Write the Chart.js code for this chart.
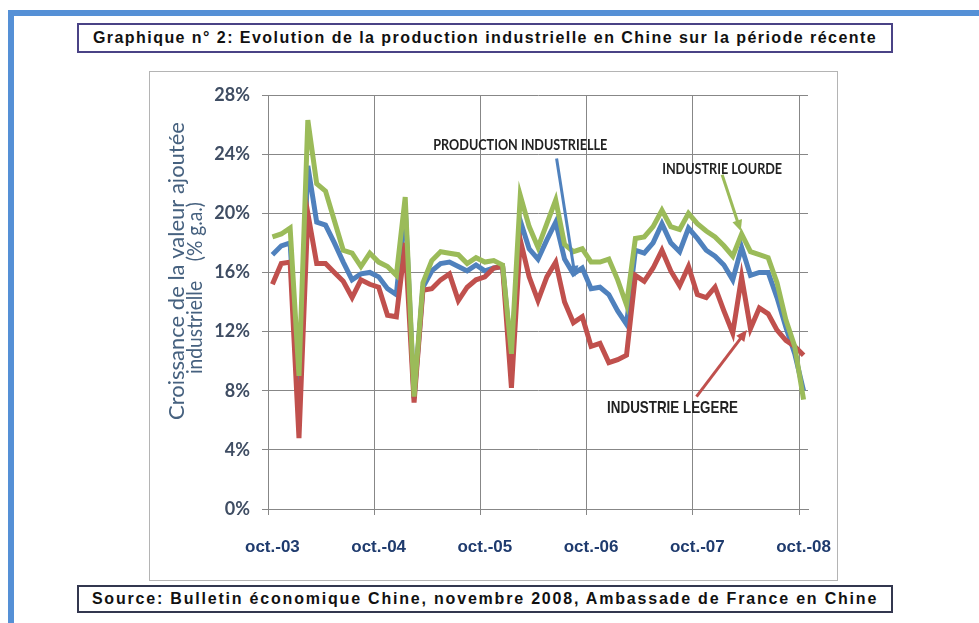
<!DOCTYPE html>
<html lang="fr">
<head>
<meta charset="utf-8">
<title>Production industrielle en Chine</title>
<script src="https://cdn.jsdelivr.net/npm/chart.js@4.4.1/dist/chart.umd.min.js"></script>
<style>
  html, body { margin: 0; padding: 0; background: #fff; }
  body { width: 979px; height: 623px; position: relative; overflow: hidden; }
  .bord-haut { position: absolute; left: 8px; top: 10px; width: 971px; height: 6px; background: #5590d6; }
  .bord-gauche { position: absolute; left: 8px; top: 10px; width: 6px; height: 613px; background: #5590d6; }
  .cadre {
    position: absolute; left: 77px; width: 816px; box-sizing: border-box;
    border: 2px solid #4a4386; color: #111; text-align: center; white-space: nowrap;
    font: bold 16px "Liberation Sans", Arial, sans-serif;
  }
  #titre { top: 23px; height: 30px; line-height: 26px; letter-spacing: 1.45px; }
  #source { top: 585px; height: 28px; line-height: 24px; letter-spacing: 1.8px; border-color: #33374f; }
  .boite { position: absolute; left: 149px; top: 71px; width: 689px; height: 510px; box-sizing: border-box; border: 1px solid #b4b4b4; }
  .boite canvas { display: block; }
</style>
</head>
<body>
<div class="bord-haut"></div>
<div class="bord-gauche"></div>
<div class="cadre" id="titre">Graphique n° 2: Evolution de la production industrielle en Chine sur la période récente</div>
<div class="boite"><canvas id="graphique"></canvas></div>
<div class="cadre" id="source">Source: Bulletin économique Chine, novembre 2008, Ambassade de France en Chine</div>

<script>
// Mois d'oct. 2003 à oct. 2008
const mois = [
  'oct.-03', 'nov.-03', 'déc.-03',
  'janv.-04', 'févr.-04', 'mars-04', 'avr.-04', 'mai-04', 'juin-04', 'juil.-04', 'août-04', 'sept.-04', 'oct.-04', 'nov.-04', 'déc.-04',
  'janv.-05', 'févr.-05', 'mars-05', 'avr.-05', 'mai-05', 'juin-05', 'juil.-05', 'août-05', 'sept.-05', 'oct.-05', 'nov.-05', 'déc.-05',
  'janv.-06', 'févr.-06', 'mars-06', 'avr.-06', 'mai-06', 'juin-06', 'juil.-06', 'août-06', 'sept.-06', 'oct.-06', 'nov.-06', 'déc.-06',
  'janv.-07', 'févr.-07', 'mars-07', 'avr.-07', 'mai-07', 'juin-07', 'juil.-07', 'août-07', 'sept.-07', 'oct.-07', 'nov.-07', 'déc.-07',
  'janv.-08', 'févr.-08', 'mars-08', 'avr.-08', 'mai-08', 'juin-08', 'juil.-08', 'août-08', 'sept.-08', 'oct.-08'
];

// Croissance de la valeur ajoutée industrielle, % g.a.
const productionIndustrielle = [
  17.2, 17.8, 18.0,
  8.0, 23.2, 19.4, 19.2, 18.0, 16.7, 15.5, 15.9, 16.0, 15.7, 14.9, 14.5,
  20.5, 7.5, 15.0, 16.1, 16.6, 16.7, 16.4, 16.1, 16.5, 16.1, 16.3, 16.4,
  10.2, 19.5, 17.6, 16.9, 18.2, 19.4, 16.9, 15.9, 16.3, 14.9, 15.0, 14.5,
  13.4, 12.5, 17.5, 17.3, 18.0, 19.3, 18.0, 17.4, 19.0, 18.3, 17.5, 17.1,
  16.5, 15.5, 17.7, 15.8, 16.0, 16.0, 14.3, 12.3, 10.5, 8.0
];
const industrieLourde = [
  18.4, 18.6, 19.0,
  9.0, 26.3, 22.0, 21.5, 19.5, 17.5, 17.3, 16.4, 17.3, 16.7, 16.4, 15.8,
  21.1, 7.6, 15.3, 16.8, 17.4, 17.3, 17.2, 16.6, 17.0, 16.7, 16.8, 16.5,
  10.5, 21.2, 19.1, 17.7, 19.3, 20.9, 17.9, 17.4, 17.6, 16.7, 16.7, 16.9,
  15.5, 13.8, 18.3, 18.4, 19.1, 20.2, 19.1, 18.9, 20.0, 19.3, 18.8, 18.4,
  17.8, 17.1, 18.6, 17.4, 17.2, 17.0, 15.3, 12.8, 11.0, 7.4
];
const industrieLegere = [
  15.2, 16.6, 16.7,
  4.8, 20.0, 16.6, 16.6, 16.0, 15.4, 14.3, 15.5, 15.2, 15.0, 13.1, 13.0,
  18.0, 7.2, 14.8, 14.9, 15.5, 15.9, 14.1, 15.0, 15.5, 15.7, 16.3, 16.4,
  8.2, 18.2, 15.7, 14.1, 15.7, 16.7, 14.0, 12.6, 13.0, 11.0, 11.2, 9.9,
  10.1, 10.4, 15.8, 15.4, 16.3, 17.5, 16.1, 15.1, 16.4, 14.5, 14.3, 15.0,
  13.4, 11.9, 15.7, 12.2, 13.6, 13.2, 12.1, 11.4, 11.0, 10.4
];

const graduationsY = [0, 4, 8, 12, 16, 20, 24, 28];

const BLEU = '#4f81bd';
const ROUGE = '#c0504d';
const VERT = '#9bbb59';
const GRILLE = '#878787';

// Étiquettes posées sur le graphique (x en rang de mois, y en %)
const etiquettes = [
  { texte: 'PRODUCTION INDUSTRIELLE', x: 28.0, y: 24.65, largeur: 174, police: 'bold 16px Lato', couleur: BLEU, fleche: [32.1, 23.7, 34.2, 15.7] },
  { texte: 'INDUSTRIE LOURDE', x: 50.8, y: 23.0, largeur: 120, police: 'bold 16px Lato', couleur: VERT, fleche: [50.8, 22.6, 52.9, 18.8] },
  { texte: 'INDUSTRIE LEGERE', x: 45.2, y: 6.8, largeur: 131, police: 'bold 17px "Liberation Sans Narrow", "Liberation Sans", sans-serif', couleur: ROUGE, fleche: [47.9, 7.6, 53.6, 12.1] }
];

function dessinerFleche(ctx, x1, y1, x2, y2, couleur) {
  const angle = Math.atan2(y2 - y1, x2 - x1);
  const longueur = 11, demi = 5;
  ctx.strokeStyle = couleur;
  ctx.fillStyle = couleur;
  ctx.lineWidth = 3;
  ctx.beginPath();
  ctx.moveTo(x1, y1);
  ctx.lineTo(x2 - Math.cos(angle) * longueur * 0.8, y2 - Math.sin(angle) * longueur * 0.8);
  ctx.stroke();
  ctx.beginPath();
  ctx.moveTo(x2, y2);
  ctx.lineTo(x2 - Math.cos(angle) * longueur + Math.sin(angle) * demi, y2 - Math.sin(angle) * longueur - Math.cos(angle) * demi);
  ctx.lineTo(x2 - Math.cos(angle) * longueur - Math.sin(angle) * demi, y2 - Math.sin(angle) * longueur + Math.cos(angle) * demi);
  ctx.closePath();
  ctx.fill();
}

function titreVertical(ctx, texte, x, y, largeurMax) {
  ctx.save();
  ctx.fillStyle = '#46617f';
  ctx.font = '22px Lato';
  ctx.textAlign = 'center';
  ctx.textBaseline = 'middle';
  ctx.translate(x, y);
  ctx.rotate(-Math.PI / 2);
  ctx.fillText(texte, 0, 0, largeurMax);
  ctx.restore();
}

const decorations = {
  id: 'decorations',
  afterDatasetsDraw(chart) {
    const { ctx, scales: { x, y } } = chart;
    ctx.save();
    etiquettes.forEach(e => {
      const f = e.fleche;
      dessinerFleche(ctx, x.getPixelForValue(f[0]), y.getPixelForValue(f[1]),
        x.getPixelForValue(f[2]), y.getPixelForValue(f[3]), e.couleur);
      ctx.font = e.police;
      ctx.fillStyle = '#222';
      ctx.textAlign = 'center';
      ctx.textBaseline = 'middle';
      ctx.fillText(e.texte, x.getPixelForValue(e.x), y.getPixelForValue(e.y), e.largeur);
    });
    ctx.restore();
  },
  afterDraw(chart) {
    // titre de l'axe vertical, deux lignes
    titreVertical(chart.ctx, 'Croissance de la valeur ajoutée', 27, 199, 300);
    titreVertical(chart.ctx, 'industrielle    (% g.a.)', 45, 216, 172);
  }
};

new Chart(document.getElementById('graphique'), {
  type: 'line',
  data: {
    labels: mois,
    datasets: [
      { label: 'Industrie lourde', data: industrieLourde, borderColor: VERT },
      { label: 'Industrie légère', data: industrieLegere, borderColor: ROUGE },
      { label: 'Production industrielle', data: productionIndustrielle, borderColor: BLEU }
    ]
  },
  options: {
    responsive: true,
    maintainAspectRatio: false,
    animation: false,
    layout: { padding: { top: 23, right: 29, left: 0, bottom: 0 } },
    elements: {
      line: { borderWidth: 5, tension: 0, fill: false },
      point: { radius: 0, hoverRadius: 0 }
    },
    plugins: {
      legend: { display: false },
      tooltip: { enabled: false }
    },
    scales: {
      x: {
        type: 'category',
        offset: true,
        grid: {
          offset: true,
          tickLength: 6,
          color: c => (c.index % 12 === 0 ? GRILLE : 'rgba(0,0,0,0)')
        },
        border: { display: true, color: GRILLE },
        ticks: {
          autoSkip: false,
          maxRotation: 0,
          padding: 22,
          color: '#1f3b6e',
          font: { family: '"Liberation Sans", Arial, sans-serif', size: 17, weight: 'bold' },
          callback: (v, i) => (mois[i].startsWith('oct.') ? mois[i] : '')
        },
        afterFit: s => { s.height = 71; s.paddingLeft = 0; s.paddingRight = 0; }
      },
      y: {
        min: 0,
        max: 28,
        grid: { color: GRILLE, tickLength: 6 },
        border: { display: true, color: GRILLE },
        afterBuildTicks: s => { s.ticks = graduationsY.map(v => ({ value: v })); },
        ticks: {
          padding: 12,
          color: '#3f4d63',
          font: { family: 'Lato', size: 18, weight: 'bold' },
          callback: v => v + '%'
        },
        afterFit: s => { s.width = 118; s.paddingTop = 0; s.paddingBottom = 0; }
      }
    }
  },
  plugins: [decorations]
});
</script>
</body>
</html>
